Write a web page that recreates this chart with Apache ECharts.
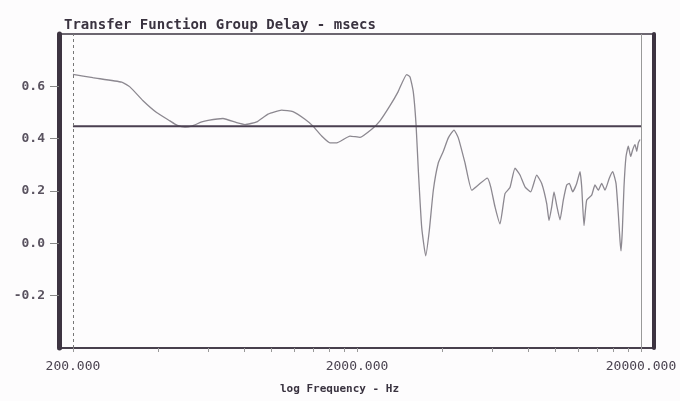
<!DOCTYPE html>
<html>
<head>
<meta charset="utf-8">
<script src="https://cdn.jsdelivr.net/npm/echarts@6/dist/echarts.min.js"></script>
<style>
  html, body { margin: 0; padding: 0; background: #fdfcfd; }
  #chart { width: 680px; height: 401px; }
</style>
</head>
<body>
<div id="chart"></div>
<script>
// Frequencies (Hz)
var freqs = [
  200, 235, 297, 318, 353, 394, 439, 464, 496, 524,
  568, 598, 675, 754, 807, 887, 972, 1086, 1190, 1312,
  1400, 1502, 1607, 1697, 1890, 2050, 2254, 2410, 2614, 2790,
  2992, 3074, 3158, 3228, 3288, 3380, 3492, 3594, 3714, 3866,
  4028, 4194, 4392, 4548, 4802, 5070, 5348, 5752, 5914, 6124,
  6376, 6640, 6914, 7200, 7498, 7808, 8178, 8586, 8942, 9312,
  9488, 9698, 9880, 10098, 10372, 10654, 10952, 11184, 11498, 11876,
  12198, 12366, 12598, 12876, 13408, 13774, 14146, 14542, 14936, 15466,
  15900, 16332, 16640, 16872, 17008, 17190, 17424, 17712, 18044, 18398,
  18702, 19052, 19316, 19568, 19840
];
// Group delay (msecs)
var delays = [
  0.646, 0.633, 0.616, 0.597, 0.545, 0.500, 0.468, 0.452, 0.444, 0.448,
  0.464, 0.470, 0.477, 0.461, 0.454, 0.464, 0.494, 0.509, 0.503, 0.474,
  0.448, 0.410, 0.384, 0.384, 0.410, 0.405, 0.436, 0.468, 0.526, 0.579,
  0.645, 0.636, 0.578, 0.455, 0.281, 0.061, -0.048, 0.048, 0.203, 0.307,
  0.352, 0.403, 0.433, 0.403, 0.307, 0.203, 0.223, 0.249, 0.216, 0.139,
  0.074, 0.190, 0.213, 0.287, 0.261, 0.216, 0.197, 0.261, 0.229, 0.152,
  0.087, 0.139, 0.197, 0.145, 0.090, 0.165, 0.223, 0.229, 0.197, 0.229,
  0.274, 0.216, 0.068, 0.165, 0.184, 0.223, 0.203, 0.229, 0.203, 0.249,
  0.274, 0.229, 0.113, 0.010, -0.029, 0.048, 0.216, 0.332, 0.371, 0.332,
  0.358, 0.377, 0.352, 0.384, 0.397
];
// Reference (average) delay line
var refFreqs = [200, 20000];
var refDelay = [0.447, 0.447];

var xLabelValues = [200, 2000, 20000];
var xTickValues = [200, 400, 600, 800, 1000, 1200, 1400, 1600, 1800, 2000,
                   4000, 6000, 8000, 10000, 12000, 14000, 16000, 18000, 20000];
var yLabelValues = [-0.2, 0, 0.2, 0.4, 0.6];

var mono = '"DejaVu Sans Mono", "Liberation Mono", monospace';
var frameColor = '#3d3441';

var chart = echarts.init(document.getElementById('chart'), null, { renderer: 'canvas' });

var curve = freqs.map(function (f, i) { return [f, delays[i]]; });
var ref = refFreqs.map(function (f, i) { return [f, refDelay[i]]; });

chart.setOption({
  animation: false,
  backgroundColor: '#fdfcfd',
  title: {
    text: 'Transfer Function Group Delay - msecs',
    left: 59, top: 13,
    textStyle: { fontFamily: mono, fontSize: 14, fontWeight: 'bold', color: '#3a3340' }
  },
  grid: {
    left: 59, right: 26, top: 34, bottom: 53,
    show: true, borderColor: frameColor, borderWidth: 1.5, backgroundColor: 'transparent'
  },
  xAxis: {
    type: 'log',
    min: 178.6, max: 22223,
    name: 'log Frequency - Hz',
    nameLocation: 'middle',
    nameGap: 36,
    nameTextStyle: { fontFamily: mono, fontSize: 11, fontWeight: 'bold', color: '#3a3340',
                     padding: [0, 34, 0, 0] },
    axisLine: { show: true, onZero: false, lineStyle: { color: frameColor, width: 1.5 } },
    axisTick: { show: true, inside: false, length: 4, customValues: xTickValues,
                lineStyle: { color: '#999', width: 1 } },
    minorTick: { show: false },
    splitLine: { show: false },
    axisLabel: {
      customValues: xLabelValues,
      margin: 12,
      fontFamily: mono, fontSize: 13, color: '#4a4350',
      formatter: function (v) { return Number(v).toFixed(3); }
    }
  },
  yAxis: [{
    type: 'value',
    min: -0.4, max: 0.8, interval: 0.2,
    axisLine: { show: true, onZero: false, lineStyle: { color: frameColor, width: 5 } },
    axisTick: { show: true, length: 9, customValues: yLabelValues,
                lineStyle: { color: '#888', width: 1 } },
    splitLine: { show: false },
    axisLabel: {
      margin: 14,
      fontFamily: mono, fontSize: 13, fontWeight: 'bold', color: '#5a5360',
      formatter: function (v) {
        var r = Math.round(v * 10) / 10;
        return yLabelValues.indexOf(r) >= 0 ? r.toFixed(1) : '';
      }
    }
  }, {
    type: 'value',
    position: 'right',
    min: -0.4, max: 0.8, interval: 0.2,
    axisLine: { show: true, onZero: false, lineStyle: { color: frameColor, width: 4 } },
    axisTick: { show: false },
    axisLabel: { show: false },
    splitLine: { show: false }
  }],
  series: [{
    type: 'line',
    data: curve,
    showSymbol: false,
    smooth: 0.15,
    lineStyle: { color: '#8c8890', width: 1.3 },
    markLine: {
      silent: true,
      symbol: 'none',
      label: { show: false },
      data: [
        { xAxis: 200, lineStyle: { color: '#777', type: [3, 3], width: 1 } },
        { xAxis: 20000, lineStyle: { color: '#999', type: 'solid', width: 1 } }
      ]
    }
  }, {
    type: 'line',
    data: ref,
    showSymbol: false,
    lineStyle: { color: '#4a3f50', width: 2 }
  }]
});
</script>
</body>
</html>
